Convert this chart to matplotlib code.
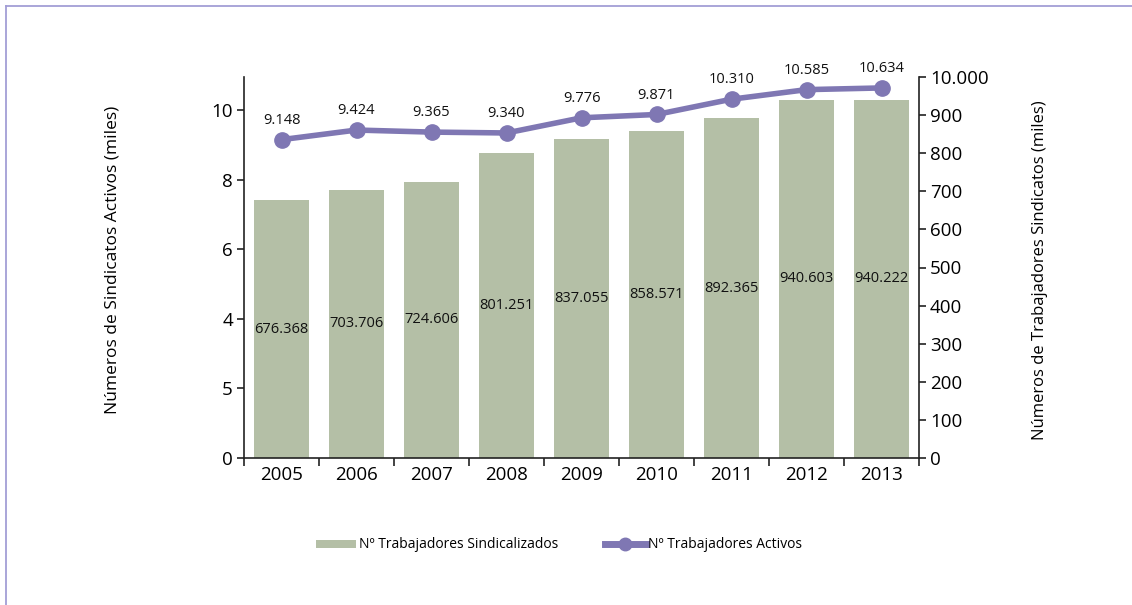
import matplotlib
matplotlib.use("Agg")
import matplotlib.pyplot as plt
from matplotlib.patches import Patch
from matplotlib.lines import Line2D
import numpy as np

plt.rcParams['font.family'] = ['Open Sans', 'DejaVu Sans']

years = ["2005", "2006", "2007", "2008", "2009", "2010", "2011", "2012", "2013"]
sindicalizados = [676.368, 703.706, 724.606, 801.251, 837.055, 858.571, 892.365, 940.603, 940.222]
sindicalizados_labels = ["676.368", "703.706", "724.606", "801.251", "837.055", "858.571", "892.365", "940.603", "940.222"]
activos = [9.148, 9.424, 9.365, 9.340, 9.776, 9.871, 10.310, 10.585, 10.634]
activos_labels = ["9.148", "9.424", "9.365", "9.340", "9.776", "9.871", "10.310", "10.585", "10.634"]
left_ticks = [0, 2, 4, 6, 8, 10]
left_tick_labels = ["0", "5", "4", "6", "8", "10"]
right_ticks = [0, 100, 200, 300, 400, 500, 600, 700, 800, 900, 1000]
right_tick_labels = ["0", "100", "200", "300", "400", "500", "600", "700", "800", "900", "10.000"]

bar_color = "#b4bfa6"
line_color = "#7f77b3"
frame_color = "#a39ed6"

fig = plt.figure(figsize=(11.32, 6.05), dpi=100)
ax = fig.add_axes([244/1132, 1-458/605, (919-244)/1132, (458-77)/605])
ax2 = ax.twinx()

x = np.arange(len(years))
ax2.bar(x, sindicalizados, width=0.73, color=bar_color, zorder=1)
for xi, v, lab in zip(x, sindicalizados, sindicalizados_labels):
    ax2.text(xi, v/2, lab, ha='center', va='center', fontsize=10.5, color='#111111')

ax.plot(x, activos, color=line_color, lw=4, marker='o', ms=11, zorder=3)
for xi, v, lab in zip(x, activos, activos_labels):
    ax.annotate(lab, (xi, v), xytext=(0, 14), textcoords='offset points',
                ha='center', va='center', fontsize=10.5, color='#111111')

ax.set_zorder(ax2.get_zorder() + 1)
ax.patch.set_visible(False)

ax.set_xlim(-0.5, 8.5)
ax.set_ylim(0, 381/34.8)
ax2.set_ylim(0, 1000)

ax.set_yticks(left_ticks)
ax.set_yticklabels(left_tick_labels, fontsize=13.5)
ax2.set_yticks(right_ticks)
ax2.set_yticklabels(right_tick_labels, fontsize=13.5)

ax.set_xticks(x)
ax.set_xticklabels(years, fontsize=13.5)
ax.set_xticks(np.arange(-0.5, 9.0, 1.0), minor=True)
ax.tick_params(axis='x', which='major', length=0, pad=6)
ax.tick_params(axis='x', which='minor', length=6, width=1.2, direction='out', color='#222222')
ax.tick_params(axis='y', length=5, width=1.2, color='#222222', pad=3)
ax2.tick_params(axis='y', length=5, width=1.2, color='#222222', pad=3)

for a in (ax, ax2):
    a.spines['top'].set_visible(False)
for s in ['left', 'bottom']:
    ax.spines[s].set_linewidth(1.2)
    ax.spines[s].set_color('#222222')
ax.spines['right'].set_visible(False)
ax2.spines['left'].set_visible(False)
ax2.spines['bottom'].set_visible(False)
ax2.spines['right'].set_linewidth(1.2)
ax2.spines['right'].set_color('#222222')

fig.text(113/1132, 1-260/605, "Números de Sindicatos Activos (miles)", rotation=90,
         ha='center', va='center', fontsize=12.5)
fig.text(1040/1132, 1-270/605, "Números de Trabajadores Sindicatos (miles)", rotation=90,
         ha='center', va='center', fontsize=12)

handles = [Patch(facecolor=bar_color, edgecolor='none'),
           Line2D([0], [0], color=line_color, lw=5, marker='o', ms=9)]
leg = fig.legend(handles, ["Nº Trabajadores Sindicalizados", "Nº Trabajadores Activos"],
                 loc='center', bbox_to_anchor=(559/1132, 1-545/605), ncol=2, frameon=False,
                 fontsize=10, handlelength=2.9, handleheight=0.5, handletextpad=0.2,
                 columnspacing=3.4)

fig.add_artist(Line2D([6/1132, 1], [1-6/605, 1-6/605], color=frame_color, lw=1.3))
fig.add_artist(Line2D([6/1132, 6/1132], [0, 1-6/605], color=frame_color, lw=1.3))

fig.savefig("out.png", dpi=100)
